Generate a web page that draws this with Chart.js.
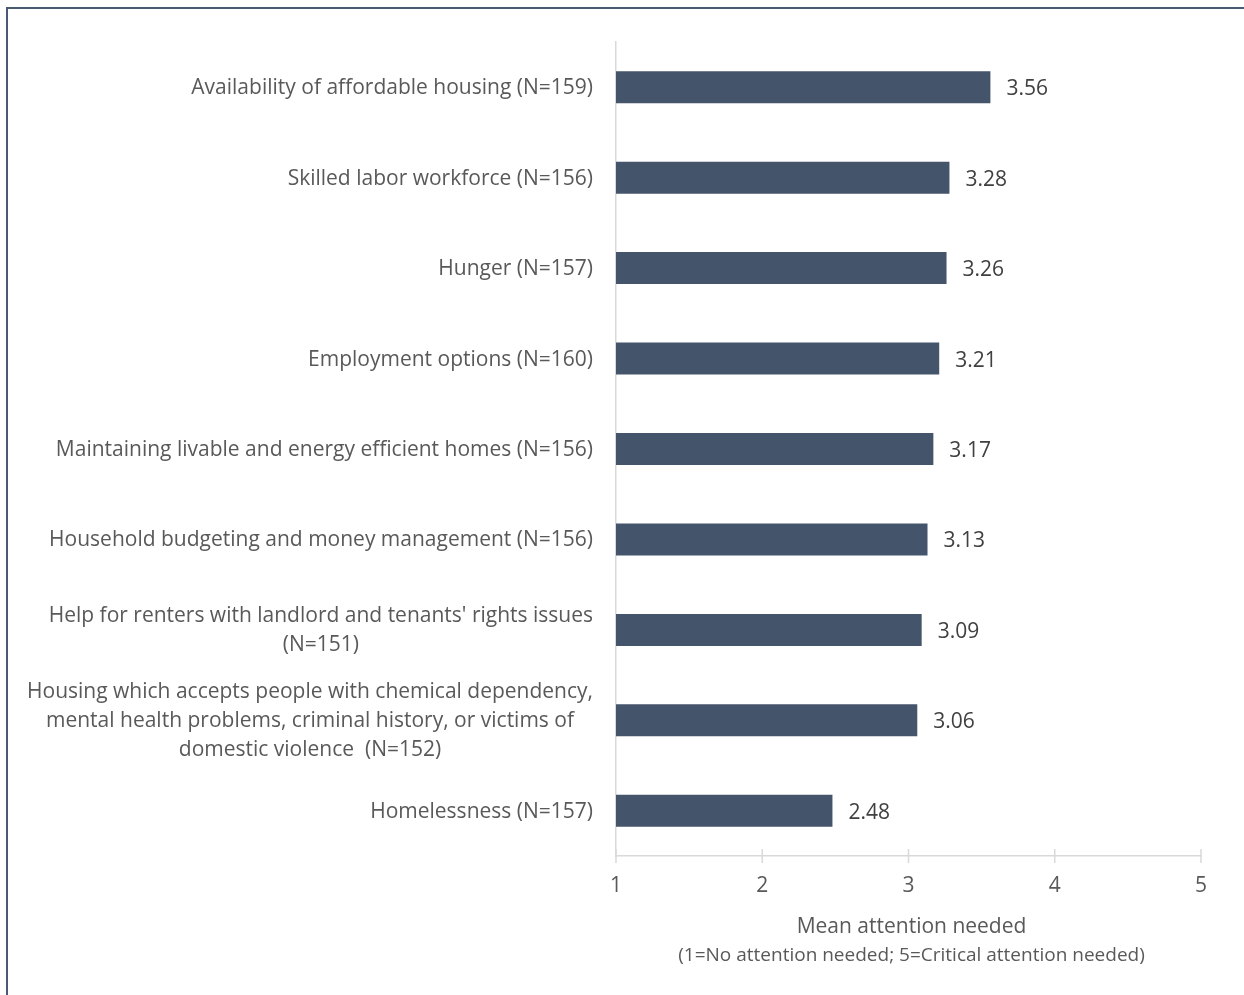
<!DOCTYPE html>
<html>
<head>
<meta charset="utf-8">
<script src="https://cdn.jsdelivr.net/npm/chart.js@4"></script>
<style>
  html, body { margin: 0; padding: 0; background: #ffffff; overflow: hidden; }
  #frame { position: absolute; left: 6px; top: 7px; width: 1300px; height: 1100px;
           border-top: 2px solid #4a5a70; border-left: 2px solid #4a5a70; }
  #wrap { position: absolute; left: 0; top: 0; width: 1244px; height: 995px; }
</style>
</head>
<body>
<div id="frame"></div>
<div id="wrap"><canvas id="c"></canvas></div>
<script>
const categories = [
  "Availability of affordable housing (N=159)",
  "Skilled labor workforce (N=156)",
  "Hunger (N=157)",
  "Employment options (N=160)",
  "Maintaining livable and energy efficient homes (N=156)",
  "Household budgeting and money management (N=156)",
  ["Help for renters with landlord and tenants' rights issues", "(N=151)"],
  ["Housing which accepts people with chemical dependency,", "mental health problems, criminal history, or victims of", "domestic violence  (N=152)"],
  "Homelessness (N=157)"
];
const meanValues = [3.56, 3.28, 3.26, 3.21, 3.17, 3.13, 3.09, 3.06, 2.48];
const xTicks = [1, 2, 3, 4, 5];
const axisTitle = "Mean attention needed";
const axisSubtitle = "(1=No attention needed; 5=Critical attention needed)";

const FONT = "'Open Sans', sans-serif";
const LABEL_COLOR = "#595959";
const VALUE_COLOR = "#404040";
const AXIS_COLOR = "#d9d9d9";
const BAR_COLOR = "#44546a";

const customDraw = {
  id: 'customDraw',
  afterDraw(chart) {
    const ctx = chart.ctx;
    const y = chart.scales.y;
    const x = chart.scales.x;
    const area = chart.chartArea;
    ctx.save();
    ctx.font = "21px " + FONT;
    ctx.fillStyle = LABEL_COLOR;
    ctx.textAlign = 'center';
    ctx.textBaseline = 'middle';
    const lineH = 29;
    categories.forEach((lab, i) => {
      const lines = Array.isArray(lab) ? lab : [lab];
      const yc = y.getPixelForValue(i) + 1;
      const widest = Math.max(...lines.map(l => ctx.measureText(l).width));
      const cx = area.left - 23 - widest / 2;
      lines.forEach((l, j) => {
        ctx.fillText(l, cx, yc + (j - (lines.length - 1) / 2) * lineH);
      });
    });
    const meta = chart.getDatasetMeta(0);
    ctx.font = "21px " + FONT;
    ctx.fillStyle = VALUE_COLOR;
    ctx.textAlign = 'left';
    meta.data.forEach((bar, i) => {
      ctx.fillText(meanValues[i].toFixed(2), bar.x + 16, bar.y + 2);
    });
    ctx.strokeStyle = AXIS_COLOR;
    ctx.lineWidth = 1.5;
    xTicks.forEach(t => {
      const px = x.getPixelForValue(t);
      ctx.beginPath();
      ctx.moveTo(px, area.bottom - 7);
      ctx.lineTo(px, area.bottom + 7);
      ctx.stroke();
    });
    const cxT = (area.left + area.right) / 2 + 3;
    ctx.textAlign = 'center';
    ctx.fillStyle = LABEL_COLOR;
    ctx.font = "21px " + FONT;
    ctx.fillText(axisTitle, cxT, area.bottom + 71);
    ctx.font = "19px " + FONT;
    ctx.fillText(axisSubtitle, cxT, area.bottom + 100);
    ctx.restore();
  }
};

new Chart(document.getElementById('c'), {
  type: 'bar',
  data: {
    labels: categories,
    datasets: [{
      data: meanValues,
      base: 1,
      backgroundColor: BAR_COLOR,
      borderWidth: 0,
      barPercentage: 0.354,
      categoryPercentage: 1.0
    }]
  },
  options: {
    indexAxis: 'y',
    responsive: true,
    maintainAspectRatio: false,
    animation: false,
    layout: { padding: { top: 42, right: 43, left: 0, bottom: 0 } },
    plugins: { legend: { display: false }, tooltip: { enabled: false } },
    scales: {
      x: {
        type: 'linear',
        min: 1, max: 5,
        afterFit(scale) { scale.height = 139; },
        afterBuildTicks(scale) { scale.ticks = xTicks.map(v => ({ value: v })); },
        grid: { display: false },
        border: { display: true, color: AXIS_COLOR, width: 1.5 },
        ticks: { color: LABEL_COLOR, font: { family: FONT, size: 21 }, padding: 9 }
      },
      y: {
        afterFit(scale) { scale.width = 616; },
        grid: { display: false },
        border: { display: true, color: AXIS_COLOR, width: 1.5 },
        ticks: { display: false }
      }
    }
  },
  plugins: [customDraw]
});
</script>
</body>
</html>
